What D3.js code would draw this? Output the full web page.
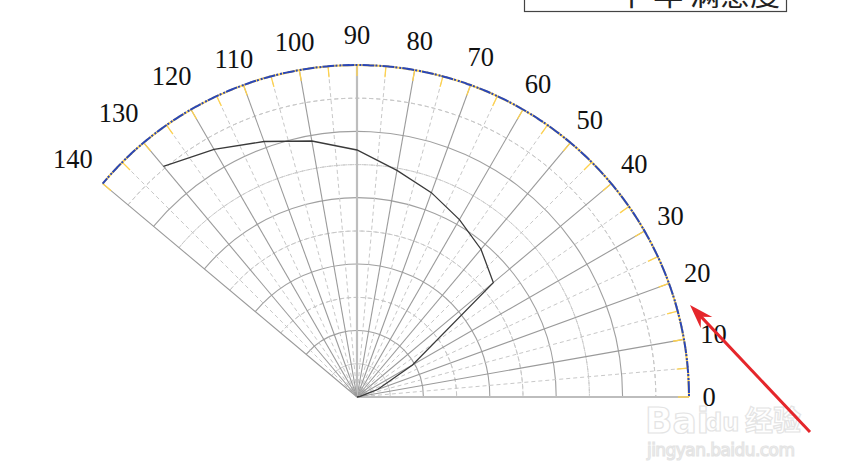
<!DOCTYPE html>
<html lang="en">
<head>
  <meta charset="UTF-8">
  <title>Polar</title>
  <script src="https://d3js.org/d3.v7.min.js"></script>
  <style>
    body { margin: 0; background: #fff; }
    svg { display: block; }
  </style>
</head>
<body>
  <svg width="844" height="473"></svg>
  <script>
    // data (angle in degrees, radius in axis units)
    const angles = [0, 10, 20, 30, 40, 50, 60, 70, 80, 90, 100, 110, 120, 130];
    const radii = [0, 0.1, 0.66, 1.93, 5.36, 5.81, 6.17, 6.55, 6.93, 7.44, 7.83, 8.19, 8.61, 9.07];
    const angleTicks = d3.range(0, 141, 10);
    const minorAngles = d3.range(5, 140, 10);
    const majorRings = [2, 4, 6, 8];
    const minorRings = [1, 3, 5, 7, 9];
    const legendText = `十 年 满意度`;

    const cx = 357, cy = 397;
    const R = 332;

    const svg = d3.select(`svg`);
    const g = svg.append(`g`).attr(`transform`, `translate(${cx},${cy})`);

    const rScale = d3.scaleLinear().domain([0, 10]).range([0, R]);
    // degrees (ccw from 3 o'clock) -> radians for d3 (cw from 12 o'clock)
    const aScale = d3.scaleLinear().domain([0, 90]).range([Math.PI / 2, 0]);
    const pt = (deg, r) => [r * Math.cos(deg * Math.PI / 180), -r * Math.sin(deg * Math.PI / 180)];

    const arc = d3.arc().startAngle(aScale(140)).endAngle(aScale(0));

    // rings
    g.selectAll(`.minor-ring`).data(minorRings).enter().append(`path`)
      .attr(`d`, d => arc({innerRadius: rScale(d), outerRadius: rScale(d)}))
      .attr(`fill`, `none`).attr(`stroke`, `#c8c8c8`).attr(`stroke-width`, 1)
      .attr(`stroke-dasharray`, `4,3`);
    g.selectAll(`.major-ring`).data(majorRings).enter().append(`path`)
      .attr(`d`, d => arc({innerRadius: rScale(d), outerRadius: rScale(d)}))
      .attr(`fill`, `none`).attr(`stroke`, `#a0a0a0`).attr(`stroke-width`, 1.1);

    // spokes
    g.selectAll(`.minor-spoke`).data(minorAngles).enter().append(`line`)
      .attr(`x1`, 0).attr(`y1`, 0)
      .attr(`x2`, d => pt(d, R)[0]).attr(`y2`, d => pt(d, R)[1])
      .attr(`stroke`, `#c8c8c8`).attr(`stroke-dasharray`, `4,3`);
    g.selectAll(`.major-spoke`).data(angleTicks).enter().append(`line`)
      .attr(`x1`, 0).attr(`y1`, 0)
      .attr(`x2`, d => pt(d, R)[0]).attr(`y2`, d => pt(d, R)[1])
      .attr(`stroke`, d => (d === 0 || d === 90) ? `#bdbdbd` : `#9a9a9a`)
      .attr(`stroke-width`, d => (d === 0 || d === 90) ? 2.2 : 1.1);

    // yellow ticks on the outer edge
    const allTicks = d3.range(0, 141, 5);
    g.selectAll(`.tick`).data(allTicks).enter().append(`line`)
      .attr(`x1`, d => pt(d, R)[0]).attr(`y1`, d => pt(d, R)[1])
      .attr(`x2`, d => pt(d, R - 11)[0]).attr(`y2`, d => pt(d, R - 11)[1])
      .attr(`stroke`, `#ffd24d`).attr(`stroke-width`, 1.3);

    // outer edge: yellow with blue dashes
    g.append(`path`).attr(`d`, arc({innerRadius: R, outerRadius: R}))
      .attr(`fill`, `none`).attr(`stroke`, `#ffd24d`).attr(`stroke-width`, 2);
    g.append(`path`).attr(`d`, arc({innerRadius: R, outerRadius: R}))
      .attr(`fill`, `none`).attr(`stroke`, `#2a47b8`).attr(`stroke-width`, 2)
      .attr(`stroke-dasharray`, `7,5,2,6`);

    // data line
    const line = d3.lineRadial()
      .angle(d => aScale(d[0]))
      .radius(d => rScale(d[1]));
    g.append(`path`)
      .attr(`d`, line(angles.map((a, i) => [a, radii[i]])))
      .attr(`fill`, `none`).attr(`stroke`, `#3a3a3a`).attr(`stroke-width`, 1.3);

    // watermark (faint, drawn under the labels)
    const wm = svg.append(`g`).attr(`fill`, `#fff`).attr(`stroke`, `#e4e4e4`).attr(`stroke-width`, 1.2)
      .attr(`font-family`, `"DejaVu Sans", sans-serif`).attr(`font-weight`, `bold`);
    wm.append(`text`).attr(`x`, 645).attr(`y`, 433).attr(`font-size`, 36).text(`Bai`);
    wm.append(`text`).attr(`x`, 705).attr(`y`, 431).attr(`font-size`, 24).text(`du`);
    wm.append(`text`).attr(`x`, 745).attr(`y`, 431)
      .attr(`font-family`, `"Noto Sans CJK SC", sans-serif`).attr(`font-size`, 28).text(`经验`);
    wm.append(`text`).attr(`x`, 647).attr(`y`, 456).attr(`font-weight`, `normal`)
      .attr(`font-size`, 17).attr(`textLength`, 148)
      .text(`jingyan.baidu.com`);

    // angle labels
    const labelOffset = d => {
      const n = String(d).length;
      return n === 1 ? 20 : n === 2 ? 30 : (d > 115 ? 39 : 28);
    };
    g.selectAll(`.lbl`).data(angleTicks).enter().append(`text`)
      .attr(`x`, d => pt(d, R + labelOffset(d))[0])
      .attr(`y`, d => pt(d, R + labelOffset(d))[1])
      .attr(`text-anchor`, `middle`).attr(`dominant-baseline`, `central`)
      .attr(`font-family`, `"Liberation Serif", "DejaVu Serif", serif`)
      .attr(`font-size`, 26.5).attr(`fill`, `#111`)
      .text(d => d);

    // legend box, cut off at the top
    svg.append(`rect`).attr(`x`, 524.5).attr(`y`, -30).attr(`width`, 262).attr(`height`, 41.5)
      .attr(`fill`, `#fff`).attr(`stroke`, `#444`).attr(`stroke-width`, 1.2);
    svg.append(`text`).attr(`x`, 780).attr(`y`, 5).attr(`text-anchor`, `end`)
      .attr(`font-family`, `"Noto Sans CJK SC", sans-serif`).attr(`font-size`, 30).attr(`fill`, `#222`)
      .text(legendText);

    // red arrow
    const arrow = svg.append(`g`);
    const tip = [690, 305], tail = [810, 432];
    const ang = Math.atan2(tail[1] - tip[1], tail[0] - tip[0]);
    arrow.append(`line`)
      .attr(`x1`, tail[0]).attr(`y1`, tail[1])
      .attr(`x2`, tip[0] + 15 * Math.cos(ang)).attr(`y2`, tip[1] + 15 * Math.sin(ang))
      .attr(`stroke`, `#e5262b`).attr(`stroke-width`, 3);
    const hl = 24, hw = 8;
    const bx = tip[0] + hl * Math.cos(ang), by = tip[1] + hl * Math.sin(ang);
    arrow.append(`path`)
      .attr(`d`, `M${tip[0]},${tip[1]}L${bx - hw * Math.sin(ang)},${by + hw * Math.cos(ang)}L${tip[0] + 16 * Math.cos(ang)},${tip[1] + 16 * Math.sin(ang)}L${bx + hw * Math.sin(ang)},${by - hw * Math.cos(ang)}Z`)
      .attr(`fill`, `#e5262b`);
  </script>
</body>
</html>
